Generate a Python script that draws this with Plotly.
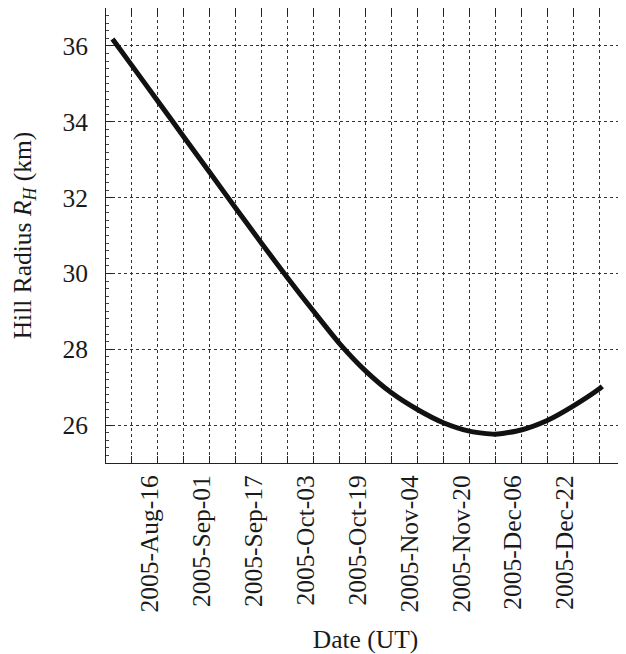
import plotly.graph_objects as go

# Data
dates = ["2005-08-02", "2005-08-08", "2005-08-16", "2005-08-24", "2005-09-01",
         "2005-09-09", "2005-09-17", "2005-09-25", "2005-10-03", "2005-10-11",
         "2005-10-19", "2005-10-27", "2005-11-04", "2005-11-12", "2005-11-20",
         "2005-11-28", "2005-12-06", "2005-12-14", "2005-12-22", "2005-12-30",
         "2005-12-31"]
hill_radius_km = [36.18, 35.48, 34.54, 33.60, 32.66,
                  31.72, 30.79, 29.88, 29.00, 28.15,
                  27.43, 26.85, 26.41, 26.06, 25.84,
                  25.76, 25.87, 26.12, 26.50, 26.95,
                  27.02]

tick_dates = ["2005-08-08", "2005-08-16", "2005-08-24", "2005-09-01", "2005-09-09",
              "2005-09-17", "2005-09-25", "2005-10-03", "2005-10-11", "2005-10-19",
              "2005-10-27", "2005-11-04", "2005-11-12", "2005-11-20", "2005-11-28",
              "2005-12-06", "2005-12-14", "2005-12-22", "2005-12-30"]
tick_labels = ["", "2005-Aug-16", "", "2005-Sep-01", "",
               "2005-Sep-17", "", "2005-Oct-03", "", "2005-Oct-19",
               "", "2005-Nov-04", "", "2005-Nov-20", "",
               "2005-Dec-06", "", "2005-Dec-22", ""]
y_ticks = [26, 28, 30, 32, 34, 36]

FONT = "Liberation Serif, Times New Roman, serif"
FS = 25.5

fig = go.Figure()
fig.add_trace(go.Scatter(
    x=dates, y=hill_radius_km, mode="lines",
    line=dict(color="#111111", width=5, shape="spline", smoothing=0.6),
    showlegend=False, hoverinfo="skip",
))

fig.update_layout(
    width=618, height=646,
    margin=dict(l=98, r=1, t=0, b=191, autoexpand=False),
    paper_bgcolor="white", plot_bgcolor="white",
    font=dict(family=FONT, size=FS, color="#1a1a1a"),
    xaxis=dict(
        type="date", range=["2005-07-31", "2006-01-07"],
        tickmode="array", tickvals=tick_dates, ticktext=tick_labels,
        tickangle=-90, ticks="inside", ticklen=7, tickcolor="#222222",
        showline=True, linecolor="#222222", linewidth=1, mirror="ticks",
        showgrid=True, gridcolor="#333333", gridwidth=1, griddash="dot",
        zeroline=False, ticklabelshift=-8, ticklabelstandoff=1, automargin=False,
        title=dict(text="Date (UT)", font=dict(family=FONT, size=FS), standoff=21),
    ),
    yaxis=dict(
        range=[25, 37], tickmode="array", tickvals=y_ticks,
        ticks="inside", ticklen=7, tickcolor="#222222",
        minor=dict(dtick=0.2, ticks="inside", ticklen=3, tickcolor="#444444", showgrid=False),
        showline=True, linecolor="#222222", linewidth=1, mirror="ticks",
        showgrid=True, gridcolor="#333333", gridwidth=1, griddash="dot",
        zeroline=False, ticklabelstandoff=12, automargin=False,
        title=dict(text="Hill Radius <i>R</i><sub><i>H</i></sub> (km)",
                   font=dict(family=FONT, size=FS), standoff=30),
    ),
)

fig.write_html("out.html")
